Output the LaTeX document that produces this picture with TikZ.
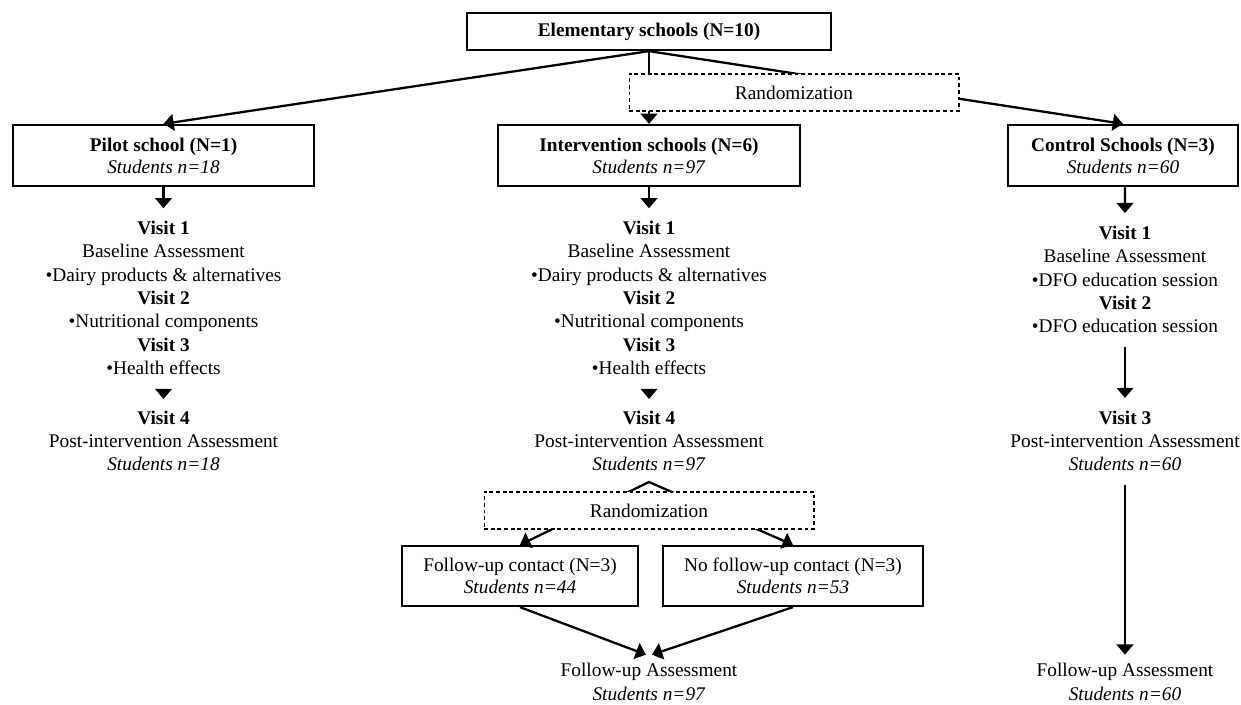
\documentclass[tikz,border=0pt]{standalone}
\usepackage{fontspec}
\setmainfont{Liberation Serif}
\usepackage{tikz}
\usetikzlibrary{arrows.meta}

\begin{document}
\begin{tikzpicture}[x=0.02cm, y=-0.02cm,
  solidBox/.style={draw, line width=1.3pt, fill=white, align=center, font=\fontsize{11}{12.6}\selectfont, inner sep=1pt},
  randBox/.style={draw, dash pattern=on 2.2pt off 1.6pt, line width=0.6pt, fill=white, minimum width=6.6cm, minimum height=0.74cm, font=\fontsize{11}{13.3}\selectfont},
  textBlock/.style={align=center, font=\fontsize{11}{13.3}\selectfont, inner sep=2pt},
  arrowLine/.style={-{Triangle[width=9.5pt,length=5.8pt]}, line width=1.3pt},
  headOnly/.style={arrowLine, shorten <=0.24cm, shorten >=0.16cm}
]

\useasboundingbox (0,0) rectangle (1241,704);

% Top box
\node[solidBox, minimum width=7.28cm, minimum height=0.74cm] (schools) at (649,31.5) {\textbf{Elementary schools (N=10)}};

% School boxes
\node[solidBox, minimum width=6.02cm, minimum height=1.22cm] (pilot) at (163.5,155.5) {\textbf{Pilot school (N=1)}\\\textit{Students n=18}};
\node[solidBox, minimum width=6.04cm, minimum height=1.22cm] (interv) at (649,155.5) {\textbf{Intervention schools (N=6)}\\\textit{Students n=97}};
\node[solidBox, minimum width=4.6cm, minimum height=1.22cm] (control) at (1123,155.5) {\textbf{Control Schools (N=3)}\\\textit{Students n=60}};

% Branches + first randomization
\draw[arrowLine] (schools.south) -- (pilot.north);
\draw[arrowLine] (schools.south) -- (interv.north);
\draw[arrowLine] (schools.south) -- (control.north);
\node[randBox] (randOne) at (794,92.5) {Randomization};

% Visit blocks
\node[textBlock] (pilotVisits) at (163.5,298) {\textbf{Visit 1}\\Baseline Assessment\\•Dairy products \& alternatives\\\textbf{Visit 2}\\•Nutritional components\\\textbf{Visit 3}\\•Health effects};
\node[textBlock] (pilotPost) at (163.5,441) {\textbf{Visit 4}\\Post-intervention Assessment\\\textit{Students n=18}};

\node[textBlock] (intervVisits) at (649,298) {\textbf{Visit 1}\\Baseline Assessment\\•Dairy products \& alternatives\\\textbf{Visit 2}\\•Nutritional components\\\textbf{Visit 3}\\•Health effects};
\node[textBlock] (intervPost) at (649,441) {\textbf{Visit 4}\\Post-intervention Assessment\\\textit{Students n=97}};

\node[textBlock] (controlVisits) at (1125,279.5) {\textbf{Visit 1}\\Baseline Assessment\\•DFO education session\\\textbf{Visit 2}\\•DFO education session};
\node[textBlock] (controlPost) at (1125,441) {\textbf{Visit 3}\\Post-intervention Assessment\\\textit{Students n=60}};

% Arrows down the columns
\draw[arrowLine, shorten >=0.18cm] (pilot.south) -- (pilotVisits.north);
\draw[headOnly] (pilotVisits.south) -- (pilotPost.north);
\draw[arrowLine, shorten >=0.18cm] (interv.south) -- (intervVisits.north);
\draw[headOnly] (intervVisits.south) -- (intervPost.north);
\draw[arrowLine, shorten >=0.18cm] ([xshift=0.04cm]control.south) -- (controlVisits.north);
\draw[arrowLine, shorten <=0.2cm, shorten >=0.18cm] (controlVisits.south) -- (controlPost.north);

% Follow-up boxes
\node[solidBox, minimum width=4.72cm, minimum height=1.2cm] (followUp) at (520,576) {Follow-up contact (N=3)\\\textit{Students n=44}};
\node[solidBox, minimum width=5.2cm, minimum height=1.2cm] (noFollowUp) at (793,576) {No follow-up contact (N=3)\\\textit{Students n=53}};

% Second randomization
\coordinate (splitTop) at (649,482);
\draw[{Triangle[width=9.5pt,length=5.8pt]}-{Triangle[width=9.5pt,length=5.8pt]}, line width=1.3pt] (followUp.north) -- (splitTop) -- (noFollowUp.north);
\node[randBox] (randTwo) at (649,510.5) {Randomization};

% Follow-up assessments
\node[textBlock] (intervFinal) at (649,682) {Follow-up Assessment\\\textit{Students n=97}};
\node[textBlock] (controlFinal) at (1125,682) {Follow-up Assessment\\\textit{Students n=60}};
\draw[arrowLine] (followUp.south) -- ([xshift=-0.06cm, yshift=0.1cm]intervFinal.north);
\draw[arrowLine] (noFollowUp.south) -- ([xshift=0.06cm, yshift=0.1cm]intervFinal.north);
\draw[arrowLine, shorten <=0.2cm, shorten >=0.1cm] (controlPost.south) -- (controlFinal.north);
\end{tikzpicture}
\end{document}
